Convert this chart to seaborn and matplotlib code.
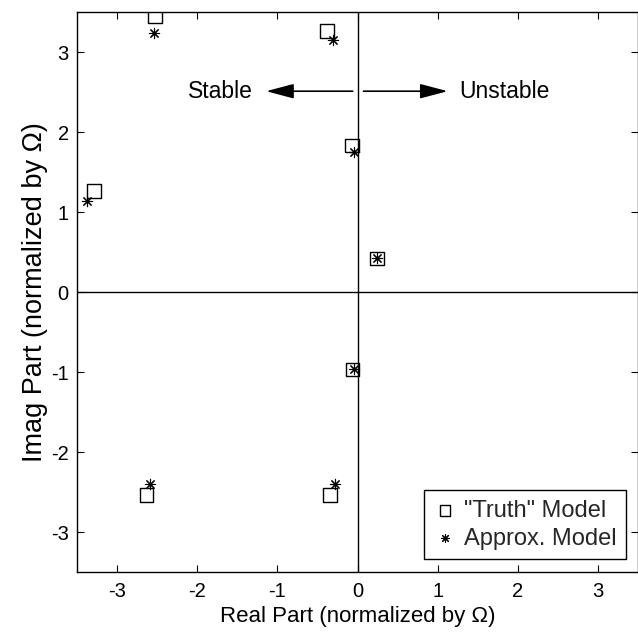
import matplotlib
matplotlib.use("Agg")
import matplotlib.pyplot as plt
import seaborn as sns
import pandas as pd

# Data
truth_re = [-2.53, -0.38, -0.07, -3.29, 0.24, -0.06, -2.63, -0.34]
truth_im = [3.45, 3.26, 1.83, 1.26, 0.42, -0.97, -2.54, -2.54]
approx_re = [-2.54, -0.30, -0.04, -3.37, 0.24, -0.04, -2.59, -0.275]
approx_im = [3.24, 3.15, 1.75, 1.14, 0.42, -0.96, -2.40, -2.40]
ticks = [-3, -2, -1, 0, 1, 2, 3]
labels_series = ['"Truth" Model', 'Approx. Model']

sns.set_style("ticks")
plt.rcParams['font.family'] = ['Liberation Sans', 'DejaVu Sans']

fig = plt.figure(figsize=(6.38, 6.32), dpi=100)
ax = fig.add_axes([77/638, 1 - 572/632, 561/638, 560/632])

df_t = pd.DataFrame({"re": truth_re, "im": truth_im})
df_a = pd.DataFrame({"re": approx_re, "im": approx_im})

ax.axhline(0, color="black", lw=1.0, zorder=1)
ax.axvline(0, color="black", lw=1.0, zorder=1)

sns.scatterplot(data=df_t, x="re", y="im", marker="s", s=95, color="black",
                facecolors="none", edgecolor="black", linewidth=1.0,
                label=labels_series[0], ax=ax, zorder=3)
sns.scatterplot(data=df_a, x="re", y="im", marker=(8, 2, 0), s=55, color="black",
                linewidth=0.8, label=labels_series[1], ax=ax, zorder=4)

ax.set_xlim(-3.5, 3.5)
ax.set_ylim(-3.5, 3.5)
ax.set_xticks(ticks)
ax.set_yticks(ticks)
ax.set_xticklabels([str(t) for t in ticks])
ax.set_yticklabels([str(t) for t in ticks])
ax.tick_params(direction="in", length=5, width=0.8, top=True, right=True,
               labelsize=14.5, colors="black")
ax.tick_params(axis="x", pad=7)
ax.tick_params(axis="y", pad=6)
for sp in ax.spines.values():
    sp.set_visible(True)
    sp.set_color("black")
    sp.set_linewidth(1.0)

ax.set_xlabel("Real Part (normalized by \u03a9)", fontsize=16, color="black", labelpad=4)
ax.set_ylabel("Imag Part (normalized by \u03a9)", fontsize=19.5, color="black", labelpad=2)

# Stable / Unstable arrows
ax.annotate("", xy=(-1.14, 2.51), xytext=(-0.06, 2.51),
            arrowprops=dict(arrowstyle="-|>,head_length=1.7,head_width=0.45",
                            mutation_scale=10, color="black", lw=1.2,
                            shrinkA=0, shrinkB=0))
ax.annotate("", xy=(1.125, 2.51), xytext=(0.075, 2.51),
            arrowprops=dict(arrowstyle="-|>,head_length=1.7,head_width=0.45",
                            mutation_scale=10, color="black", lw=1.2,
                            shrinkA=0, shrinkB=0))
ax.text(-1.31, 2.51, "Stable", ha="right", va="center", fontsize=16.5, color="black")
ax.text(1.275, 2.51, "Unstable", ha="left", va="center", fontsize=16.5, color="black")

leg = ax.legend(loc="lower right", bbox_to_anchor=(0.979, 0.023), fontsize=17,
                frameon=True, fancybox=False, framealpha=1, edgecolor="black",
                borderpad=0.4, handletextpad=0.3, labelspacing=0.25,
                borderaxespad=0, handlelength=1.0, markerscale=0.75)
leg.get_frame().set_linewidth(1.0)

fig.savefig("out.png", dpi=100)
